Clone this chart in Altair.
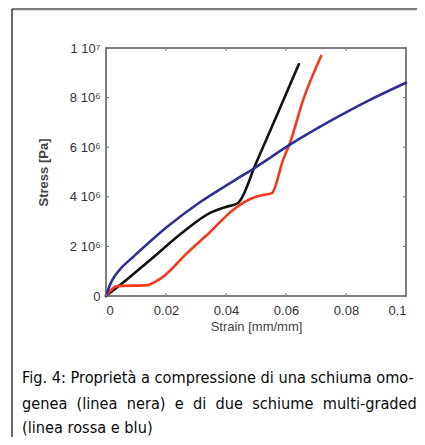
import altair as alt
import pandas as pd

# ---- data ----
black_x = [0, 0.0047, 0.0147, 0.0257, 0.0347, 0.040, 0.044, 0.050, 0.057, 0.0643]
black_y = [0, 0.44e6, 1.45e6, 2.58e6, 3.35e6, 3.59e6, 3.75e6, 5.35e6, 7.3e6, 9.35e6]

red_x = [0, 0.0037, 0.014, 0.0165, 0.019, 0.027, 0.0347, 0.0423, 0.050, 0.0523, 0.0553, 0.059, 0.0613, 0.0657, 0.0717]
red_y = [0, 0.40e6, 0.44e6, 0.58e6, 0.77e6, 1.73e6, 2.58e6, 3.47e6, 4.0e6, 4.07e6, 4.15e6, 5.48e6, 6.17e6, 7.9e6, 9.68e6]

blue_x = [0, 0.0015, 0.003, 0.005, 0.009, 0.0203, 0.0313, 0.0423, 0.050, 0.0613, 0.0757, 0.087, 0.1]
blue_y = [0, 0.5e6, 0.82e6, 1.12e6, 1.57e6, 2.78e6, 3.78e6, 4.62e6, 5.2e6, 6.1e6, 7.12e6, 7.85e6, 8.6e6]

series_names = ["omogenea", "multi-graded rossa", "multi-graded blu"]
series_colors = ["#111111", "#f23a1c", "#2e3192"]

x_ticks = [0, 0.02, 0.04, 0.06, 0.08, 0.1]
y_ticks = [0, 2e6, 4e6, 6e6, 8e6, 1e7]

x_title = "Strain [mm/mm]"
y_title = "Stress [Pa]"

caption_lines = [
    "Fig. 4: Proprietà a compressione di una schiuma omo-",
    "genea\u00a0\u00a0(linea\u00a0\u00a0nera)\u00a0\u00a0e\u00a0\u00a0di\u00a0\u00a0due\u00a0\u00a0schiume\u00a0\u00a0multi-graded",
    "(linea rossa e blu)",
]

# ---- tables ----
rows = []
for name, xs_, ys_ in zip(series_names, [black_x, red_x, blue_x], [black_y, red_y, blue_y]):
    for i, (a, b) in enumerate(zip(xs_, ys_)):
        rows.append({"serie": name, "i": i, "strain": a, "stress": b})
df = pd.DataFrame(rows)

xt = pd.DataFrame({"t": x_ticks})
yt = pd.DataFrame({"t": y_ticks})
cap = pd.DataFrame({"line": caption_lines, "k": [0, 1, 2]})

W, H = 300, 248
xs = alt.Scale(domain=[0, 0.1], nice=False, zero=False)
ys = alt.Scale(domain=[0, 1e7], nice=False, zero=False)

label_expr = ("datum.value == 0 ? '0' : datum.value >= 9999999 ? '1 10\u2077' : "
              "format(datum.value / 1e6, 'd') + ' 10\u2076'")

lines = alt.Chart(df).mark_line(strokeWidth=2.6, interpolate="monotone", strokeCap="round").encode(
    x=alt.X("strain:Q", scale=xs,
            axis=alt.Axis(values=x_ticks, format="~g", title=x_title, ticks=False, domain=False,
                          grid=False, labelPadding=8, titlePadding=3)),
    y=alt.Y("stress:Q", scale=ys,
            axis=alt.Axis(values=y_ticks, labelExpr=label_expr, title=y_title, ticks=False,
                          domain=False, grid=False, labelPadding=6, titlePadding=19,
                          titleFontWeight="bold")),
    color=alt.Color("serie:N", scale=alt.Scale(domain=series_names, range=series_colors), legend=None),
    order="i:Q",
)

tick_color = "#777777"
xb = alt.Chart(xt).mark_rule(color=tick_color, strokeWidth=1).encode(
    x=alt.X("t:Q", scale=xs), y=alt.value(H), y2=alt.value(H - 3))
xtp = alt.Chart(xt).mark_rule(color=tick_color, strokeWidth=1).encode(
    x=alt.X("t:Q", scale=xs), y=alt.value(0), y2=alt.value(3))
yl = alt.Chart(yt).mark_rule(color=tick_color, strokeWidth=1).encode(
    y=alt.Y("t:Q", scale=ys), x=alt.value(0), x2=alt.value(3))
yr = alt.Chart(yt).mark_rule(color=tick_color, strokeWidth=1).encode(
    y=alt.Y("t:Q", scale=ys), x=alt.value(W), x2=alt.value(W - 3))

# frame of the figure panel
frame_top = alt.Chart(cap.head(1)).mark_rule(color="#7f7f7f", strokeWidth=2.5).encode(
    x=alt.value(-94), x2=alt.value(330), y=alt.value(-39))
frame_left = alt.Chart(cap.head(1)).mark_rule(color="#000000", strokeWidth=1.2).encode(
    x=alt.value(-94), y=alt.value(-39), y2=alt.value(420))

cap_font = "DejaVu Sans Condensed, Liberation Sans Narrow, Liberation Sans"
caption_layers = []
for k, yy in zip([0, 1, 2], [335, 361, 385]):
    caption_layers.append(
        alt.Chart(cap[cap.k == k]).mark_text(
            align="left", baseline="alphabetic", font=cap_font, fontSize=16.2, color="#0a0a0a"
        ).encode(x=alt.value(-84), y=alt.value(yy), text="line:N")
    )

chart = alt.layer(lines, xb, xtp, yl, yr, frame_top, frame_left, *caption_layers).properties(
    width=W, height=H,
    autosize=alt.AutoSizeParams(type="none"),
    padding={"left": 98, "top": 40, "right": 11, "bottom": 141},
).configure_view(stroke="#7f7f7f", strokeWidth=2).configure_axis(
    labelFont="Liberation Sans", titleFont="Liberation Sans", labelFontSize=13, titleFontSize=13,
    labelColor="#333333", titleColor="#444444", titleFontWeight="normal"
)

chart.save("out.html", embed_options={"renderer": "svg", "actions": False})
